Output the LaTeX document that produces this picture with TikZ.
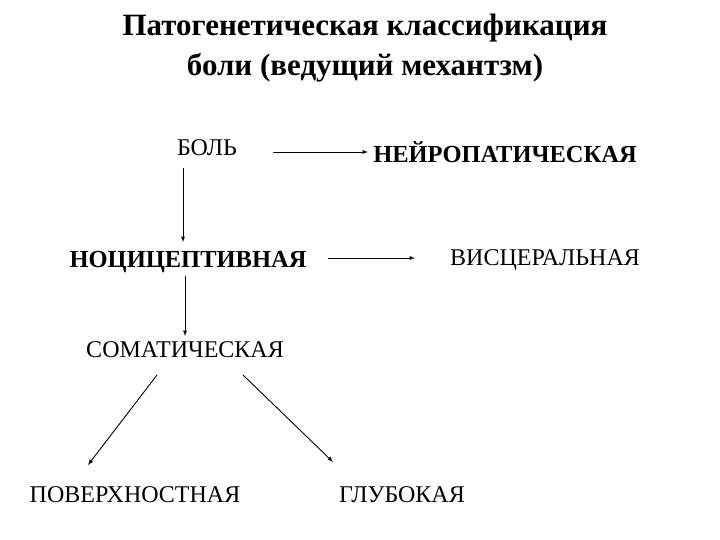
\documentclass[tikz,border=0pt]{standalone}
\usepackage{fontspec}
\setmainfont{Liberation Serif}
\begin{document}
\begin{tikzpicture}[x=1pt,y=-1pt,
  lbl/.style={font=\fontsize{24}{28}\selectfont,inner sep=0pt},
  bl/.style={font=\bfseries\fontsize{24.5}{28}\selectfont,inner sep=0pt},
  ttl/.style={font=\bfseries\fontsize{31}{40}\selectfont,inner sep=0pt,align=center},
  arr/.style={-latex,line width=0.9pt}]
\useasboundingbox (0,0) rectangle (720,540);
\node[ttl] (t) at (365,48) {Патогенетическая классификация\\боли (ведущий механтзм)};
\node[lbl] (bol) at (207,148) {БОЛЬ};
\node[bl] (neu) at (505,152) {НЕЙРОПАТИЧЕСКАЯ};
\node[bl] (noc) at (188,262) {НОЦИЦЕПТИВНАЯ};
\node[lbl] (vis) at (545,260) {ВИСЦЕРАЛЬНАЯ};
\node[lbl] (som) at (185,350) {СОМАТИЧЕСКАЯ};
\node[lbl] (pov) at (135,495) {ПОВЕРХНОСТНАЯ};
\node[lbl] (glu) at (402,495) {ГЛУБОКАЯ};
\coordinate (a1) at (273,152); \coordinate (a2) at (368,152);
\coordinate (b1) at (183,168); \coordinate (b2) at (183,242);
\coordinate (c1) at (328,258); \coordinate (c2) at (415,258);
\coordinate (d1) at (185,276); \coordinate (d2) at (185,336);
\coordinate (e1) at (157,375); \coordinate (e2) at (88,465);
\coordinate (f1) at (243,375); \coordinate (f2) at (333,462);
\draw[arr] (a1) -- (a2);
\draw[arr] (b1) -- (b2);
\draw[arr] (c1) -- (c2);
\draw[arr] (d1) -- (d2);
\draw[arr] (e1) -- (e2);
\draw[arr] (f1) -- (f2);
\end{tikzpicture}
\end{document}
